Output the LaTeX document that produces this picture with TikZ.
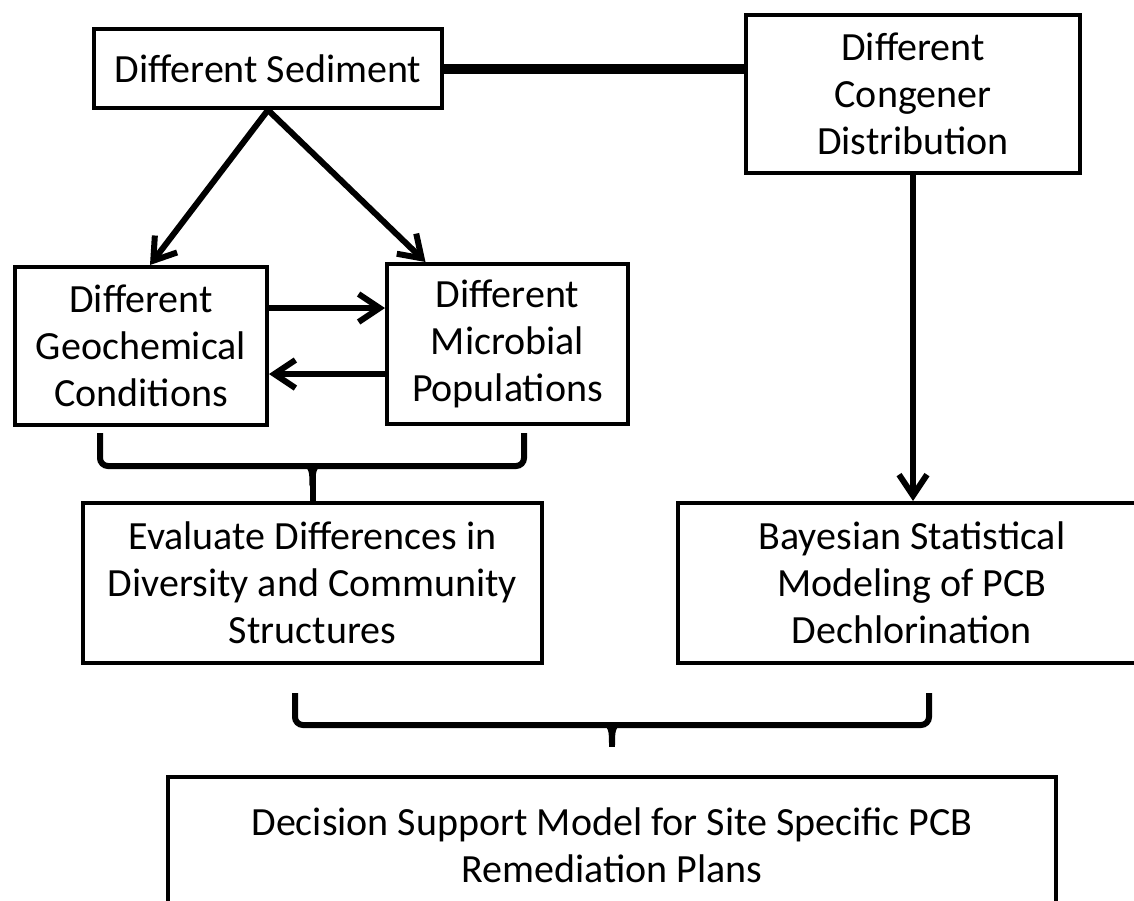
\documentclass[tikz,border=0pt]{standalone}
\usepackage{fontspec}
\setmainfont{Carlito}
\usetikzlibrary{arrows.meta}

\begin{document}
\begin{tikzpicture}[
    x=1pt, y=-1pt,
    box/.style={rectangle, draw, line width=4pt, inner sep=0pt, align=center,
                font=\fontsize{40}{47}\selectfont},
    link/.style={-{Straight Barb[length=21pt,width=28pt]}, line width=6pt},
    brace/.style={line width=6pt, rounded corners=8pt},
    bond/.style={line width=10pt}
]
    \useasboundingbox (0,0) rectangle (1134,900);

    % Boxes
    \node[box, minimum width=348pt, minimum height=79pt] (sed) at (268,68.5) {Different Sediment};
    \node[box, minimum width=334pt, minimum height=158pt] (cong) at (913,94) {Different\\Congener\\Distribution};
    \node[box, minimum width=252pt, minimum height=158pt] (geo) at (141,346) {Different\\Geochemical\\Conditions};
    \node[box, minimum width=241pt, minimum height=160pt] (micro) at (507.5,344) {Different\\Microbial\\Populations};
    \node[box, minimum width=459pt, minimum height=160pt] (eval) at (312.5,583) {Evaluate Differences in\\Diversity and Community\\Structures};
    \node[box, minimum width=468pt, minimum height=160pt] (bayes) at (912,583) {Bayesian Statistical\\Modeling of PCB\\Dechlorination};
    \node[box, minimum width=888pt, minimum height=136pt] (dec) at (612,845) {Decision Support Model for Site Specific PCB\\Remediation Plans};

    % Sediment to congener
    \draw[bond] (sed.east) -- (sed.east -| cong.west);

    % Arrows
    \draw[link] (sed.south) -- ([xshift=9pt]geo.north);
    \draw[link] (sed.south) -- ([xshift=-82pt]micro.north);
    \draw[link] ([yshift=38pt]geo.east) -- ([yshift=38pt]geo.east -| micro.west);
    \draw[link] ([yshift=-30pt]micro.west) -- ([yshift=-30pt]micro.west -| geo.east);
    \draw[link] (cong.south) -- (cong.south |- bayes.north);

    % Brace under geochemical and microbial
    \coordinate (b1l) at (100,433);
    \coordinate (b1r) at (524,433);
    \coordinate (b1m) at (eval.north |- 0,466);
    \draw[brace] (b1l) |- (b1m) -| (b1r);
    \draw[line width=6pt] (b1m) -- (eval.north);
    \fill ([xshift=-13pt]b1m) .. controls ([xshift=-3pt]b1m) and ([xshift=-3pt,yshift=-6pt]b1m) .. ([xshift=-3pt,yshift=-20pt]b1m)
        -- ([xshift=3pt,yshift=-20pt]b1m) .. controls ([xshift=3pt,yshift=-6pt]b1m) and ([xshift=3pt]b1m) .. ([xshift=13pt]b1m) -- cycle;

    % Brace under evaluate and bayesian
    \coordinate (b2l) at (295,693);
    \coordinate (b2r) at (929,693);
    \coordinate (b2m) at (dec.north |- 0,725);
    \draw[brace] (b2l) |- (b2m) -| (b2r);
    \draw[line width=6pt] (b2m) -- ([yshift=-22pt]b2m);
    \fill ([xshift=-13pt]b2m) .. controls ([xshift=-3pt]b2m) and ([xshift=-3pt,yshift=-6pt]b2m) .. ([xshift=-3pt,yshift=-20pt]b2m)
        -- ([xshift=3pt,yshift=-20pt]b2m) .. controls ([xshift=3pt,yshift=-6pt]b2m) and ([xshift=3pt]b2m) .. ([xshift=13pt]b2m) -- cycle;

\end{tikzpicture}
\end{document}
